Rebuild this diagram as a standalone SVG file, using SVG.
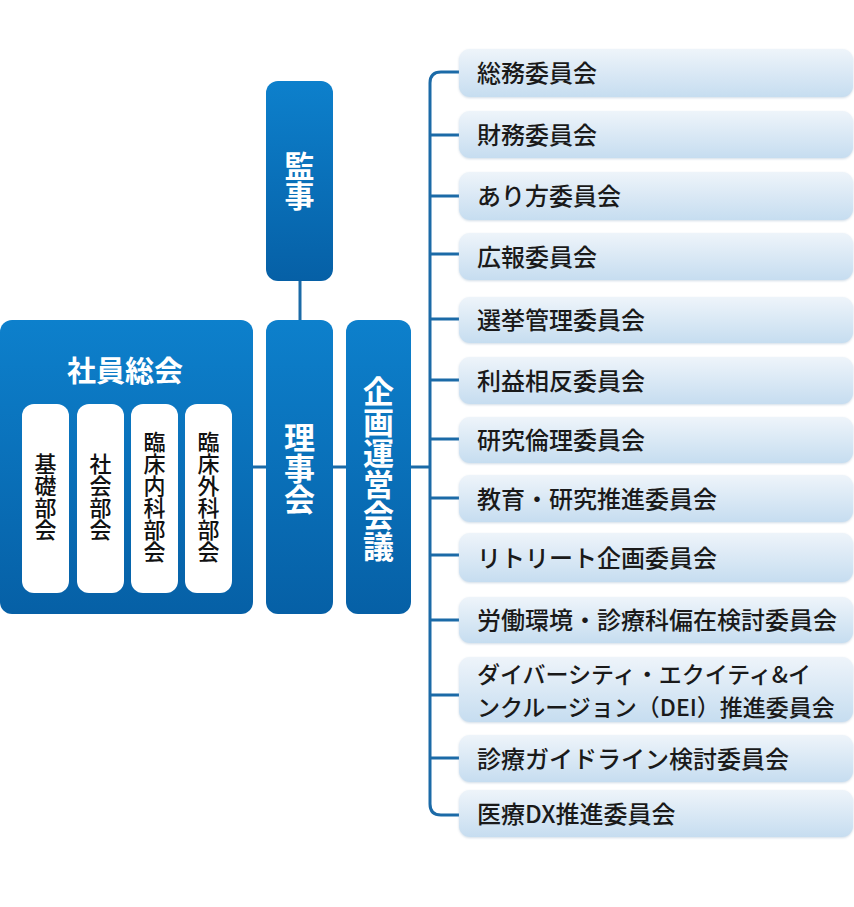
<svg xmlns="http://www.w3.org/2000/svg" width="854" height="907" viewBox="0 0 854 907">
<defs>
<linearGradient id="blue" x1="0" y1="0" x2="0" y2="1">
<stop offset="0" stop-color="#0d80cc"/>
<stop offset="1" stop-color="#0660a6"/>
</linearGradient>
<linearGradient id="light" x1="0" y1="0" x2="0" y2="1">
<stop offset="0" stop-color="#eef4fa"/>
<stop offset="1" stop-color="#c6ddf0"/>
</linearGradient>
<filter id="sh" x="-5%" y="-20%" width="110%" height="140%">
<feDropShadow dx="0" dy="1" stdDeviation="1" flood-color="#8aa9c4" flood-opacity="0.4"/>
</filter>
</defs>
<style>
.bb{fill:url(#blue)}
.wb{fill:#ffffff}
.lb{fill:url(#light);filter:url(#sh)}
.wt{fill:#ffffff;font-family:"Noto Sans CJK JP","Noto Sans",sans-serif;font-weight:700}
.vt{writing-mode:vertical-rl;text-anchor:middle}
.kt{fill:#111111;font-family:"Noto Sans CJK JP","Noto Sans",sans-serif;font-weight:500;font-size:22px}
.rt{fill:#1a1a1a;font-family:"Noto Sans CJK JP","Noto Sans",sans-serif;font-weight:500;font-size:24px;dominant-baseline:central}
.rs{font-size:23px}
.ln{fill:none;stroke:#1b6aa7;stroke-width:3}
</style>
<rect width="854" height="907" fill="#ffffff"/>
<g id="connectors">
<path class="ln" d="M300 280 V321"/>
<path class="ln" d="M252 467 H267"/>
<path class="ln" d="M332 467 H347"/>
<path class="ln" d="M410 467 H431"/>
<path class="ln" d="M460 72 H441 Q430 72 430 83 V804 Q430 815 441 815 H460"/>
<path class="ln" d="M430 135 H460 M430 196 H460 M430 254 H460 M430 319 H460 M430 380 H460 M430 439 H460 M430 498 H460 M430 555 H460 M430 620 H460 M430 695 H460 M430 758 H460"/>
</g>
<g id="kansa">
<rect class="bb" x="266" y="81" width="67" height="200" rx="12"/>
<text class="wt vt" x="299.5" y="181" font-size="30">監事</text>
</g>
<g id="shain-sokai">
<rect class="bb" x="0" y="320" width="253" height="294" rx="12"/>
<text class="wt" x="125" y="381.5" font-size="29" text-anchor="middle">社員総会</text>
</g>
<g id="kiso">
<rect class="wb" x="22" y="404" width="47" height="189" rx="12"/>
<text class="kt vt" x="45.5" y="497">基礎部会</text>
</g>
<g id="shakai">
<rect class="wb" x="77" y="404" width="47" height="189" rx="12"/>
<text class="kt vt" x="100.5" y="497">社会部会</text>
</g>
<g id="rinsho-naika">
<rect class="wb" x="131" y="404" width="47" height="189" rx="12"/>
<text class="kt vt" x="154.5" y="497">臨床内科部会</text>
</g>
<g id="rinsho-geka">
<rect class="wb" x="185" y="404" width="47" height="189" rx="12"/>
<text class="kt vt" x="208.5" y="497">臨床外科部会</text>
</g>
<g id="rijikai">
<rect class="bb" x="266" y="320" width="67" height="294" rx="12"/>
<text class="wt vt" x="299.5" y="468" font-size="31">理事会</text>
</g>
<g id="kikaku">
<rect class="bb" x="346" y="320" width="65" height="294" rx="12"/>
<text class="wt vt" x="378.5" y="469" font-size="31">企画運営会議</text>
</g>
<g id="c1"><rect class="lb" x="459" y="49" width="394" height="48" rx="11"/><text class="rt" x="477" y="71.5">総務委員会</text></g>
<g id="c2"><rect class="lb" x="459" y="111" width="394" height="47" rx="11"/><text class="rt" x="477" y="133">財務委員会</text></g>
<g id="c3"><rect class="lb" x="459" y="172" width="394" height="48" rx="11"/><text class="rt" x="477" y="194.5">あり方委員会</text></g>
<g id="c4"><rect class="lb" x="459" y="233" width="394" height="47" rx="11"/><text class="rt" x="477" y="255">広報委員会</text></g>
<g id="c5"><rect class="lb" x="459" y="297" width="394" height="46" rx="11"/><text class="rt" x="477" y="318.5">選挙管理委員会</text></g>
<g id="c6"><rect class="lb" x="459" y="357" width="394" height="47" rx="11"/><text class="rt" x="477" y="379">利益相反委員会</text></g>
<g id="c7"><rect class="lb" x="459" y="417" width="394" height="46" rx="11"/><text class="rt" x="477" y="438.5">研究倫理委員会</text></g>
<g id="c8"><rect class="lb" x="459" y="475" width="394" height="47" rx="11"/><text class="rt" x="477" y="497">教育・研究推進委員会</text></g>
<g id="c9"><rect class="lb" x="459" y="533" width="394" height="49" rx="11"/><text class="rt" x="477" y="556">リトリート企画委員会</text></g>
<g id="c10"><rect class="lb" x="459" y="597" width="394" height="46" rx="11"/><text class="rt" x="477" y="618.5">労働環境・診療科偏在検討委員会</text></g>
<g id="c11"><rect class="lb" x="459" y="657" width="394" height="65" rx="11"/><text class="rt rs" x="477" y="672.5">ダイバーシティ・エクイティ&amp;イ</text><text class="rt rs" x="477" y="706">ンクルージョン（DEI）推進委員会</text></g>
<g id="c12"><rect class="lb" x="459" y="735" width="394" height="47" rx="11"/><text class="rt" x="477" y="757">診療ガイドライン検討委員会</text></g>
<g id="c13"><rect class="lb" x="459" y="790" width="394" height="47" rx="11"/><text class="rt" x="477" y="812">医療DX推進委員会</text></g>
</svg>
